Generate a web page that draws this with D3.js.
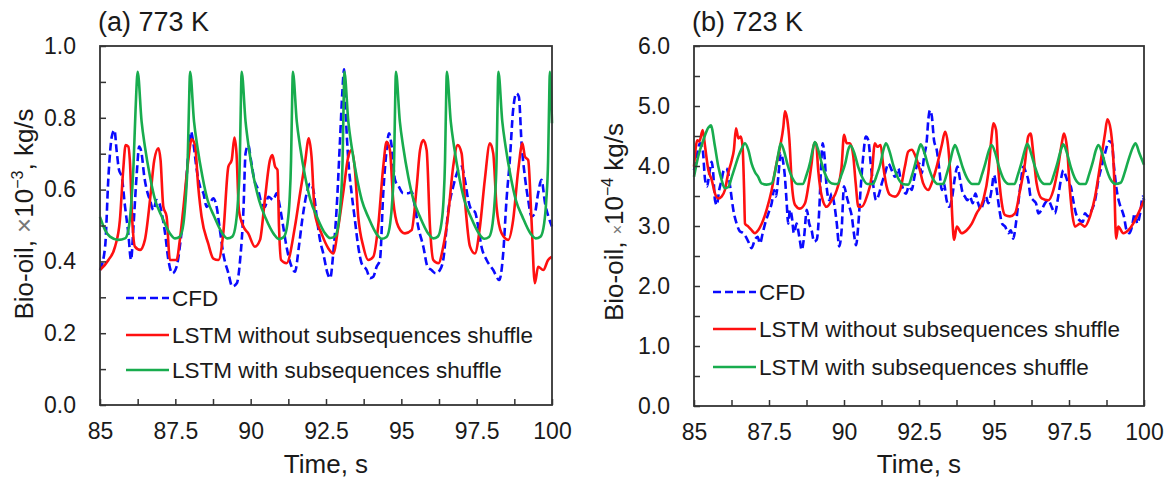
<!DOCTYPE html>
<html>
<head>
<meta charset="utf-8">
<script src="https://cdn.jsdelivr.net/npm/d3@7"></script>
<style>
  body { margin: 0; background: #fff; }
  svg { font-family: "Liberation Sans", Arial, sans-serif; }
</style>
</head>
<body>
<svg id="chart" width="1170" height="486"></svg>
<script>
// ---- data: time (s) and bio-oil rate ----
const legendNames = ["CFD", "LSTM without subsequences shuffle", "LSTM with subsequences shuffle"];
const xTicks = [85, 86.25, 87.5, 88.75, 90, 91.25, 92.5, 93.75, 95, 96.25, 97.5, 98.75, 100];
const xTickLabels = ["85", "", "87.5", "", "90", "", "92.5", "", "95", "", "97.5", "", "100"];
const yTicks773 = [0, 0.1, 0.2, 0.3, 0.4, 0.5, 0.6, 0.7, 0.8, 0.9, 1.0];
const yTickLabels773 = ["0.0", "", "0.2", "", "0.4", "", "0.6", "", "0.8", "", "1.0"];
const yTicks723 = [0, 0.5, 1, 1.5, 2, 2.5, 3, 3.5, 4, 4.5, 5, 5.5, 6];
const yTickLabels723 = ["0.0", "", "1.0", "", "2.0", "", "3.0", "", "4.0", "", "5.0", "", "6.0"];

// (a) 773 K, x10^-3 kg/s
const cfd773 = [[85.00,0.376],[85.17,0.441],[85.28,0.636],[85.39,0.747],[85.48,0.766],[85.55,0.710],[85.63,0.655],[85.72,0.636],[85.83,0.553],[85.94,0.478],[86.03,0.404],[86.11,0.497],[86.22,0.645],[86.30,0.720],[86.38,0.701],[86.47,0.636],[86.58,0.590],[86.66,0.571],[86.77,0.543],[86.88,0.571],[86.97,0.562],[87.05,0.534],[87.16,0.478],[87.27,0.404],[87.40,0.367],[87.54,0.385],[87.69,0.469],[87.82,0.571],[87.93,0.701],[88.02,0.761],[88.10,0.729],[88.21,0.655],[88.32,0.608],[88.43,0.590],[88.54,0.552],[88.65,0.562],[88.76,0.576],[88.87,0.552],[88.98,0.487],[89.09,0.422],[89.26,0.367],[89.39,0.330],[89.54,0.339],[89.65,0.404],[89.76,0.543],[89.83,0.701],[89.92,0.724],[90.01,0.682],[90.12,0.627],[90.25,0.599],[90.36,0.562],[90.47,0.552],[90.59,0.580],[90.75,0.571],[90.86,0.590],[90.97,0.552],[91.08,0.497],[91.19,0.441],[91.36,0.385],[91.47,0.371],[91.60,0.441],[91.71,0.515],[91.86,0.590],[91.97,0.617],[92.08,0.599],[92.19,0.525],[92.30,0.460],[92.41,0.422],[92.55,0.367],[92.64,0.353],[92.74,0.422],[92.85,0.543],[92.96,0.729],[93.04,0.868],[93.10,0.935],[93.15,0.822],[93.24,0.682],[93.35,0.590],[93.46,0.515],[93.57,0.441],[93.68,0.395],[93.85,0.376],[93.96,0.353],[94.07,0.357],[94.18,0.385],[94.29,0.404],[94.40,0.590],[94.51,0.710],[94.59,0.757],[94.68,0.720],[94.79,0.627],[94.92,0.608],[95.06,0.590],[95.23,0.590],[95.34,0.594],[95.45,0.552],[95.56,0.497],[95.73,0.441],[95.87,0.385],[96.00,0.376],[96.14,0.367],[96.28,0.376],[96.39,0.404],[96.56,0.543],[96.72,0.608],[96.89,0.655],[97.00,0.664],[97.11,0.627],[97.22,0.571],[97.33,0.543],[97.44,0.538],[97.55,0.497],[97.66,0.441],[97.83,0.404],[98.05,0.376],[98.25,0.348],[98.38,0.422],[98.49,0.571],[98.60,0.682],[98.71,0.822],[98.82,0.868],[98.90,0.859],[98.99,0.729],[99.10,0.636],[99.21,0.571],[99.32,0.525],[99.43,0.534],[99.54,0.590],[99.65,0.627],[99.77,0.562],[99.88,0.525],[100.00,0.497]];

const noShuffle773 = [[85.00,0.376],[85.28,0.404],[85.50,0.441],[85.66,0.515],[85.77,0.655],[85.85,0.724],[85.94,0.720],[85.99,0.682],[86.07,0.515],[86.16,0.441],[86.33,0.432],[86.49,0.460],[86.66,0.571],[86.80,0.682],[86.94,0.715],[87.01,0.682],[87.10,0.553],[87.21,0.525],[87.32,0.404],[87.54,0.404],[87.65,0.460],[87.76,0.543],[87.93,0.682],[88.04,0.740],[88.15,0.725],[88.26,0.608],[88.37,0.525],[88.59,0.450],[88.76,0.408],[88.93,0.404],[89.09,0.478],[89.26,0.664],[89.37,0.682],[89.46,0.745],[89.53,0.701],[89.61,0.543],[89.76,0.497],[89.92,0.478],[90.14,0.441],[90.31,0.460],[90.47,0.571],[90.64,0.682],[90.72,0.696],[90.81,0.664],[90.89,0.655],[90.94,0.497],[91.01,0.404],[91.19,0.395],[91.47,0.497],[91.64,0.590],[91.80,0.673],[91.93,0.743],[92.02,0.692],[92.13,0.534],[92.35,0.478],[92.58,0.436],[92.74,0.422],[92.91,0.497],[93.07,0.590],[93.24,0.692],[93.35,0.710],[93.46,0.655],[93.57,0.525],[93.74,0.441],[93.90,0.404],[94.07,0.413],[94.23,0.497],[94.40,0.664],[94.51,0.733],[94.62,0.710],[94.73,0.571],[94.90,0.497],[95.12,0.478],[95.34,0.487],[95.51,0.608],[95.62,0.710],[95.73,0.738],[95.84,0.710],[95.95,0.497],[96.06,0.404],[96.23,0.395],[96.39,0.441],[96.56,0.534],[96.72,0.664],[96.87,0.724],[97.00,0.701],[97.11,0.571],[97.28,0.441],[97.44,0.422],[97.61,0.497],[97.77,0.627],[97.94,0.729],[98.05,0.701],[98.16,0.552],[98.33,0.478],[98.55,0.460],[98.71,0.515],[98.88,0.655],[99.02,0.729],[99.10,0.692],[99.21,0.682],[99.32,0.515],[99.43,0.339],[99.54,0.385],[99.71,0.376],[99.87,0.404],[100.00,0.413]];

const shuffle773 = [[85.00,0.524],[85.17,0.487],[85.33,0.469],[85.61,0.460],[85.83,0.464],[85.94,0.487],[86.03,0.553],[86.11,0.664],[86.18,0.822],[86.25,0.928],[86.38,0.790],[86.49,0.720],[86.66,0.636],[86.83,0.571],[87.05,0.525],[87.32,0.478],[87.49,0.464],[87.65,0.469],[87.77,0.506],[87.84,0.571],[87.91,0.682],[87.95,0.822],[87.99,0.928],[88.12,0.790],[88.23,0.720],[88.40,0.636],[88.57,0.571],[88.79,0.525],[89.06,0.478],[89.23,0.464],[89.39,0.469],[89.51,0.506],[89.58,0.571],[89.64,0.682],[89.67,0.822],[89.70,0.928],[89.83,0.790],[89.94,0.715],[90.11,0.630],[90.28,0.570],[90.50,0.520],[90.77,0.476],[90.94,0.462],[91.10,0.468],[91.22,0.505],[91.29,0.570],[91.34,0.680],[91.37,0.820],[91.40,0.928],[91.53,0.790],[91.64,0.720],[91.81,0.635],[91.98,0.572],[92.20,0.524],[92.47,0.478],[92.64,0.465],[92.80,0.470],[92.92,0.507],[92.99,0.570],[93.05,0.680],[93.08,0.820],[93.11,0.928],[93.24,0.790],[93.35,0.720],[93.52,0.635],[93.69,0.570],[93.91,0.522],[94.18,0.476],[94.35,0.463],[94.51,0.468],[94.63,0.506],[94.70,0.570],[94.76,0.680],[94.79,0.820],[94.82,0.928],[94.95,0.790],[95.06,0.720],[95.23,0.636],[95.40,0.572],[95.62,0.524],[95.89,0.478],[96.06,0.464],[96.21,0.469],[96.33,0.506],[96.40,0.570],[96.45,0.680],[96.48,0.820],[96.51,0.928],[96.64,0.790],[96.75,0.720],[96.92,0.635],[97.09,0.571],[97.31,0.523],[97.58,0.477],[97.75,0.463],[97.91,0.468],[98.03,0.506],[98.10,0.570],[98.16,0.680],[98.19,0.820],[98.22,0.928],[98.35,0.790],[98.46,0.720],[98.63,0.636],[98.80,0.571],[99.02,0.524],[99.29,0.477],[99.46,0.464],[99.62,0.469],[99.74,0.506],[99.81,0.570],[99.87,0.680],[99.90,0.820],[99.93,0.928],[100.00,0.785]];

// (b) 723 K, x10^-4 kg/s
const cfd723 = [[85.00,3.93],[85.09,4.16],[85.20,4.38],[85.29,4.27],[85.37,3.77],[85.44,3.66],[85.51,3.88],[85.59,4.07],[85.64,3.88],[85.70,3.43],[85.76,3.35],[85.84,3.60],[85.92,3.77],[85.98,3.91],[86.07,3.96],[86.14,3.88],[86.22,3.60],[86.31,3.27],[86.42,3.04],[86.53,2.91],[86.64,2.88],[86.73,2.82],[86.81,2.74],[86.92,2.63],[87.03,2.77],[87.12,2.82],[87.20,2.71],[87.29,2.88],[87.37,3.04],[87.48,3.21],[87.59,3.38],[87.67,3.60],[87.73,3.49],[87.81,3.82],[87.89,4.21],[87.96,4.10],[88.03,3.82],[88.09,3.38],[88.14,3.04],[88.20,3.27],[88.26,3.16],[88.33,2.88],[88.42,3.04],[88.51,2.82],[88.59,2.60],[88.67,2.82],[88.76,3.27],[88.84,3.04],[88.92,2.93],[89.00,2.74],[89.09,2.77],[89.18,3.32],[89.23,3.93],[89.29,4.38],[89.35,4.16],[89.42,3.66],[89.51,3.43],[89.59,3.54],[89.67,3.38],[89.76,3.04],[89.84,2.66],[89.92,2.93],[90.00,3.66],[90.09,3.49],[90.18,3.32],[90.26,3.16],[90.33,2.88],[90.40,2.68],[90.48,3.04],[90.56,3.66],[90.64,4.16],[90.73,4.49],[90.81,4.43],[90.89,4.04],[90.98,3.66],[91.07,3.43],[91.14,3.49],[91.26,3.71],[91.37,3.88],[91.48,4.04],[91.59,3.93],[91.70,3.82],[91.81,3.96],[91.89,3.77],[91.98,3.60],[92.07,3.54],[92.16,3.66],[92.26,3.60],[92.33,3.77],[92.42,3.99],[92.51,4.04],[92.59,3.88],[92.67,4.16],[92.76,4.43],[92.81,4.77],[92.87,4.93],[92.93,4.82],[93.00,4.43],[93.09,4.27],[93.18,3.93],[93.26,3.60],[93.33,3.71],[93.42,3.43],[93.51,3.32],[93.59,3.43],[93.70,3.82],[93.78,3.99],[93.87,3.77],[93.96,3.54],[94.03,3.49],[94.11,3.43],[94.20,3.49],[94.29,3.38],[94.38,3.54],[94.47,3.38],[94.56,3.27],[94.64,3.38],[94.73,3.49],[94.81,3.38],[94.92,3.60],[95.00,3.85],[95.09,3.60],[95.18,3.27],[95.27,3.04],[95.37,2.99],[95.48,2.88],[95.56,2.93],[95.64,2.79],[95.73,3.04],[95.81,3.38],[95.89,3.71],[95.98,3.99],[96.07,3.88],[96.14,3.77],[96.22,3.49],[96.31,3.43],[96.40,3.38],[96.48,3.21],[96.59,3.27],[96.70,3.38],[96.81,3.43],[96.92,3.32],[97.03,3.21],[97.14,3.49],[97.23,3.77],[97.31,3.93],[97.40,3.82],[97.48,3.71],[97.56,3.66],[97.64,3.43],[97.73,3.21],[97.84,3.10],[97.96,3.07],[98.03,3.21],[98.14,3.16],[98.26,3.27],[98.37,3.43],[98.48,3.77],[98.59,3.99],[98.70,4.21],[98.84,4.41],[98.93,4.38],[99.00,3.99],[99.09,3.60],[99.18,3.38],[99.26,3.27],[99.33,3.16],[99.42,2.93],[99.51,2.88],[99.60,2.99],[99.69,3.21],[99.78,3.04],[99.87,3.21],[99.96,3.49],[100.00,3.43]];

const noShuffle723 = [[85.00,3.99],[85.11,4.43],[85.18,4.41],[85.29,4.60],[85.37,4.32],[85.48,3.93],[85.59,3.77],[85.70,3.54],[85.81,3.46],[85.92,3.49],[86.03,3.60],[86.14,3.88],[86.26,4.10],[86.33,4.27],[86.40,4.63],[86.48,4.46],[86.56,4.49],[86.62,4.32],[86.67,3.60],[86.70,3.04],[86.81,2.99],[86.92,2.93],[87.03,2.88],[87.14,2.93],[87.26,3.04],[87.42,3.27],[87.59,3.60],[87.73,3.99],[87.87,4.32],[87.98,4.66],[88.03,4.91],[88.11,4.77],[88.18,4.43],[88.26,3.71],[88.37,3.35],[88.53,3.29],[88.70,3.38],[88.81,3.66],[88.92,4.04],[89.00,4.38],[89.07,4.38],[89.14,3.93],[89.26,3.49],[89.42,3.32],[89.59,3.43],[89.76,3.60],[89.92,3.99],[90.00,4.52],[90.09,4.38],[90.20,4.38],[90.31,4.16],[90.39,3.71],[90.48,3.32],[90.59,3.32],[90.76,3.49],[90.92,3.82],[91.03,4.38],[91.11,4.32],[91.22,4.35],[91.31,3.99],[91.42,3.66],[91.53,3.52],[91.70,3.49],[91.87,3.60],[92.03,3.99],[92.14,4.24],[92.26,4.27],[92.37,4.18],[92.53,3.93],[92.64,3.71],[92.81,3.60],[92.92,3.71],[93.09,3.99],[93.26,4.35],[93.37,4.57],[93.48,4.29],[93.56,3.71],[93.62,3.04],[93.67,2.77],[93.76,2.99],[93.92,2.88],[94.09,2.93],[94.26,3.04],[94.42,3.21],[94.64,3.43],[94.81,3.88],[94.92,4.49],[94.98,4.71],[95.07,4.60],[95.14,3.99],[95.26,3.38],[95.37,3.18],[95.53,3.16],[95.70,3.21],[95.87,3.60],[96.03,4.04],[96.14,4.49],[96.22,4.54],[96.31,4.21],[96.42,3.71],[96.59,3.46],[96.81,3.43],[96.98,3.60],[97.14,3.99],[97.26,4.38],[97.33,4.54],[97.44,4.27],[97.53,3.60],[97.62,3.16],[97.70,2.99],[97.87,3.04],[98.03,2.99],[98.20,3.16],[98.37,3.49],[98.53,3.99],[98.70,4.54],[98.78,4.78],[98.89,4.60],[99.00,3.88],[99.07,2.79],[99.14,2.99],[99.31,2.88],[99.48,2.93],[99.64,3.04],[99.81,3.21],[100.00,3.43]];

const shuffle723 = [[85.00,3.82],[85.14,4.16],[85.31,4.43],[85.48,4.64],[85.56,4.68],[85.70,4.32],[85.81,3.99],[85.92,3.77],[86.03,3.63],[86.15,3.65],[86.26,3.82],[86.37,3.99],[86.48,4.16],[86.59,4.29],[86.70,4.38],[86.81,4.27],[86.92,4.04],[87.03,3.90],[87.14,3.82],[87.25,3.71],[87.42,3.69],[87.59,3.71],[87.70,3.90],[87.81,4.20],[87.89,4.38],[88.00,4.25],[88.12,4.02],[88.28,3.80],[88.45,3.70],[88.62,3.70],[88.75,3.85],[88.88,4.08],[88.96,4.28],[89.03,4.40],[89.15,4.25],[89.28,4.00],[89.43,3.80],[89.60,3.71],[89.78,3.70],[89.92,3.86],[90.05,4.06],[90.14,4.27],[90.22,4.34],[90.34,4.22],[90.47,3.99],[90.62,3.80],[90.78,3.70],[90.96,3.70],[91.10,3.86],[91.22,4.05],[91.32,4.28],[91.40,4.38],[91.52,4.24],[91.65,4.00],[91.80,3.80],[91.96,3.70],[92.14,3.69],[92.27,3.85],[92.38,4.05],[92.48,4.26],[92.56,4.36],[92.68,4.22],[92.82,3.98],[92.97,3.78],[93.12,3.70],[93.30,3.70],[93.42,3.86],[93.53,4.06],[93.63,4.27],[93.70,4.35],[93.82,4.20],[93.96,3.97],[94.11,3.79],[94.28,3.70],[94.48,3.70],[94.60,3.86],[94.72,4.06],[94.83,4.26],[94.92,4.35],[95.04,4.22],[95.17,3.98],[95.32,3.78],[95.49,3.70],[95.68,3.70],[95.80,3.86],[95.92,4.06],[96.03,4.27],[96.11,4.37],[96.23,4.22],[96.37,3.98],[96.52,3.78],[96.68,3.70],[96.87,3.70],[97.00,3.86],[97.12,4.06],[97.23,4.27],[97.31,4.36],[97.43,4.22],[97.56,3.98],[97.71,3.78],[97.87,3.70],[98.05,3.70],[98.17,3.86],[98.29,4.06],[98.40,4.27],[98.48,4.35],[98.60,4.22],[98.73,3.98],[98.88,3.78],[99.05,3.70],[99.22,3.72],[99.35,3.88],[99.47,4.08],[99.62,4.30],[99.72,4.38],[99.84,4.22],[100.00,4.02]];

const colors = ["#0a0aff", "#ff1010", "#18ac4e"];
const svg = d3.select("#chart");

function drawPanel(p) {
  const x = d3.scaleLinear().domain([85, 100]).range([p.left, p.right]);
  const y = d3.scaleLinear().domain([0, p.yMax]).range([p.bottom, p.top]);
  const g = svg.append("g");

  // series
  const line = d3.line().x(d => x(d[0])).y(d => y(d[1])).curve(d3.curveMonotoneX);
  p.series.forEach((s, i) => {
    g.append("path")
      .attr("d", line(s))
      .attr("fill", "none")
      .attr("stroke", colors[i])
      .attr("stroke-width", 2.6)
      .attr("stroke-linejoin", "round")
      .attr("stroke-dasharray", i === 0 ? "8,4" : null);
  });

  // axes, ticks pointing inward
  const xAxis = g.append("g")
    .attr("transform", `translate(0,${p.bottom})`)
    .call(d3.axisBottom(x).tickValues(xTicks).tickSize(-6).tickPadding(18)
      .tickFormat((d, i) => xTickLabels[i]));
  const yAxis = g.append("g")
    .attr("transform", `translate(${p.left},0)`)
    .call(d3.axisLeft(y).tickValues(p.yTicks).tickSize(-6).tickPadding(24)
      .tickFormat((d, i) => p.yLabels[i]));
  [xAxis, yAxis].forEach(a => {
    a.select(".domain").remove();
    a.selectAll("line").attr("stroke", "#333").attr("stroke-width", 1.5);
    a.selectAll("text").attr("font-size", 23).attr("fill", "#1a1a1a")
      .attr("font-family", "Liberation Sans, Arial, sans-serif");
  });

  // frame
  g.append("rect")
    .attr("x", p.left).attr("y", p.top)
    .attr("width", p.right - p.left).attr("height", p.bottom - p.top)
    .attr("fill", "none").attr("stroke", "#333").attr("stroke-width", 1.8);

  // titles
  g.append("text").attr("x", p.left - 2).attr("y", 31)
    .attr("font-size", 27).attr("fill", "#1a1a1a").text(p.title);
  g.append("text").attr("x", (p.left + p.right) / 2).attr("y", 473)
    .attr("text-anchor", "middle").attr("font-size", 26).attr("fill", "#1a1a1a")
    .text("Time, s");

  const yl = g.append("text")
    .attr("transform", `translate(${p.yLabelX},${p.yLabelY}) rotate(-90)`)
    .attr("text-anchor", "middle").attr("font-size", 26).attr("fill", "#1a1a1a");
  yl.append("tspan").text("Bio-oil, ");
  yl.append("tspan").attr("fill", "#777").attr("font-size", p.timesSize).text("\u00d7");
  yl.append("tspan").text("10");
  yl.append("tspan").attr("font-size", 16).attr("dy", -10).text(p.exponent);
  yl.append("tspan").attr("dy", 10).text(p.unitTail);

  // legend
  p.legendY.forEach((ly, i) => {
    g.append("line")
      .attr("x1", p.legendX).attr("x2", p.legendX + 43)
      .attr("y1", ly).attr("y2", ly)
      .attr("stroke", colors[i]).attr("stroke-width", 2.6)
      .attr("stroke-dasharray", i === 0 ? "8,4" : null);
    g.append("text")
      .attr("x", p.legendX + 46).attr("y", ly + 8)
      .attr("font-size", 22.5).attr("fill", "#1a1a1a")
      .text(legendNames[i]);
  });
}

drawPanel({
  left: 100, right: 552, top: 46, bottom: 405, yMax: 1.0,
  yTicks: yTicks773, yLabels: yTickLabels773,
  series: [cfd773, noShuffle773, shuffle773],
  title: "(a) 773 K",
  yLabelX: 33, yLabelY: 214, exponent: "\u22123", unitTail: ", kg/s", timesSize: 26,
  legendX: 126, legendY: [298, 335, 370]
});

drawPanel({
  left: 694, right: 1144, top: 46, bottom: 406, yMax: 6.0,
  yTicks: yTicks723, yLabels: yTickLabels723,
  series: [cfd723, noShuffle723, shuffle723],
  title: "(b) 723 K",
  yLabelX: 623, yLabelY: 222, exponent: "\u22124", unitTail: " kg/s", timesSize: 16,
  legendX: 713, legendY: [292, 329, 367]
});
</script>
</body>
</html>
